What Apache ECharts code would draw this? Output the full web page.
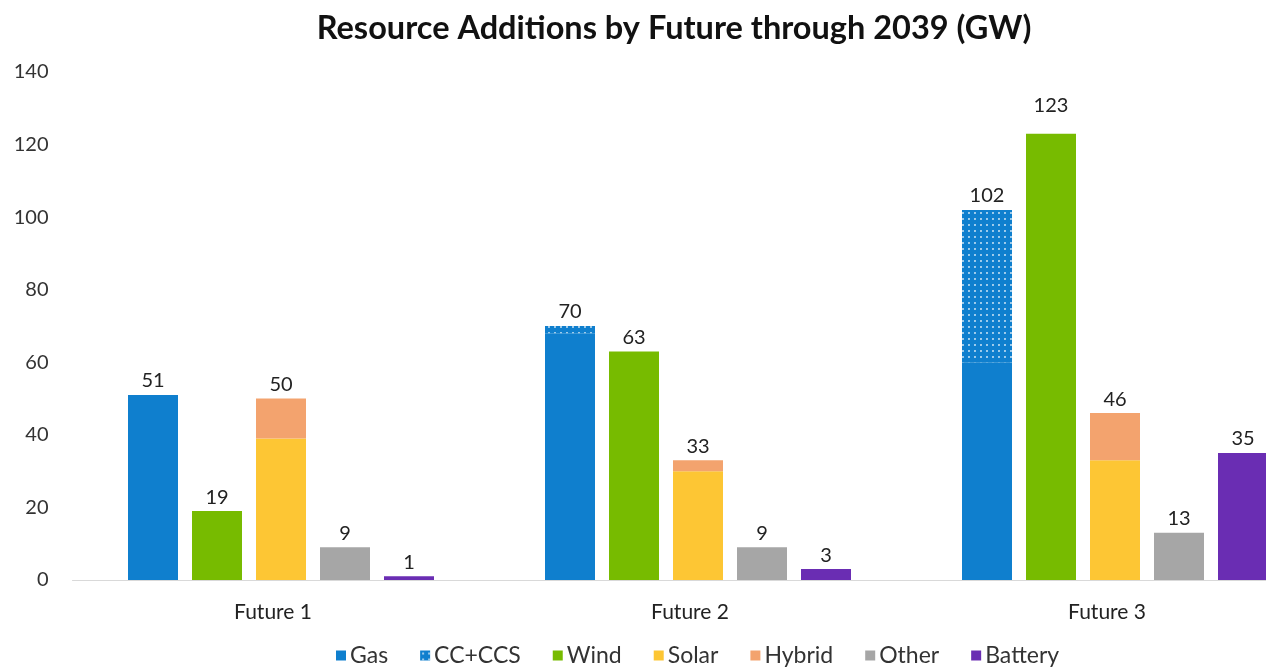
<!DOCTYPE html>
<html>
<head>
<meta charset="utf-8">
<script src="https://cdn.jsdelivr.net/npm/echarts@6/dist/echarts.min.js"></script>
<style>
  html, body { margin: 0; padding: 0; background: #ffffff; overflow: hidden; }
  /* the plot runs past the right edge of the window, so the last bar is cut */
  #chart { width: 1330px; height: 671px; }
</style>
</head>
<body>
<div id="chart"></div>
<script>
// Resource additions (GW) per future scenario, through 2039
const categories = ['Future 1', 'Future 2', 'Future 3'];
const gas     = [51, 68, 60];
const ccCcs   = [0, 2, 42];
const wind    = [19, 63, 123];
const solar   = [39, 30, 33];
const hybrid  = [11, 3, 13];
const other   = [9, 9, 13];
const battery = [1, 3, 35];
const yTicks  = [0, 20, 40, 60, 80, 100, 120, 140];

const FONT = 'Lato, "Open Sans", sans-serif';

const thermalTotal = gas.map((v, i) => v + ccCcs[i]);
const solarTotal = solar.map((v, i) => v + hybrid[i]);

const valueLabel = (totals) => ({
  show: true,
  position: 'top',
  distance: 4,
  fontFamily: FONT,
  fontSize: 20,
  color: '#222',
  formatter: (p) => String(totals ? totals[p.dataIndex] : p.value)
});

const BAR_W = 50;

function bar(name, data, stack, color, label, extra) {
  return {
    name: name,
    type: 'bar',
    stack: stack,
    data: data,
    barWidth: BAR_W,
    barGap: '28%',
    barCategoryGap: '26.6%',
    itemStyle: Object.assign({ color: color }, extra || {}),
    label: label || { show: false }
  };
}

// the tallest wind label sits a little higher, clear of the bar top
const windData = wind.map((v, i) =>
  i === 2 ? { value: v, label: { offset: [0, -14] } } : v);

const chart = echarts.init(document.getElementById('chart'), null, { renderer: 'canvas' });

chart.setOption({
  animation: false,
  backgroundColor: '#ffffff',
  title: {
    text: 'Resource Additions by Future through 2039 (GW)',
    left: 669,
    textAlign: 'center',
    top: 7,
    textStyle: { fontFamily: FONT, fontWeight: 'bold', fontSize: 32.5, color: '#111' }
  },
  legend: {
    bottom: -1,
    left: 331,
    itemWidth: 10,
    itemHeight: 10,
    itemGap: 32,
    icon: 'rect',
    textStyle: { fontFamily: FONT, fontSize: 23, color: '#333', padding: [0, 0, 0, -1] },
    data: ['Gas', 'CC+CCS', 'Wind', 'Solar', 'Hybrid', 'Other', 'Battery']
  },
  grid: { left: 72.5, top: 72, width: 1251, height: 508 },
  xAxis: {
    type: 'category',
    data: categories,
    axisTick: { show: false },
    axisLine: { show: true, lineStyle: { color: '#d9d9d9', width: 1 } },
    axisLabel: { fontFamily: FONT, fontSize: 21, color: '#222', margin: 22, padding: [0, 16, 0, 0] }
  },
  yAxis: {
    type: 'value',
    min: yTicks[0],
    max: yTicks[yTicks.length - 1],
    interval: yTicks[1] - yTicks[0],
    axisLine: { show: false },
    axisTick: { show: false },
    splitLine: { show: false },
    axisLabel: { fontFamily: FONT, fontSize: 20, color: '#333', margin: 24 }
  },
  series: [
    bar('Gas', gas, 'thermal', '#0f7fce'),
    bar('CC+CCS', ccCcs, 'thermal', '#0f7fce', valueLabel(thermalTotal), {
      decal: {
        symbol: 'circle',
        symbolSize: 0.35,
        color: 'rgba(255,255,255,0.75)',
        dashArrayX: [6, 0],
        dashArrayY: [6, 0],
        rotation: 0
      }
    }),
    bar('Wind', windData, 'wind', '#77bb00', valueLabel()),
    bar('Solar', solar, 'solar', '#fdc634'),
    bar('Hybrid', hybrid, 'solar', '#f3a36e', valueLabel(solarTotal)),
    bar('Other', other, 'other', '#a6a6a6', valueLabel()),
    bar('Battery', battery, 'battery', '#6a2db3', valueLabel())
  ]
});
</script>
</body>
</html>
